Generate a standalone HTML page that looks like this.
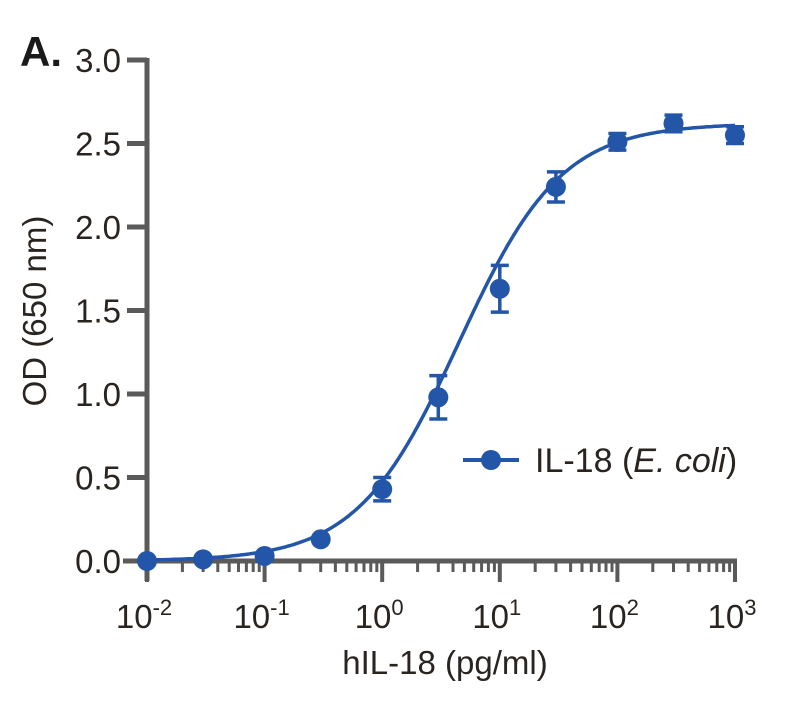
<!DOCTYPE html>
<html><head><meta charset="utf-8"><style>
body{margin:0;background:#fff}
svg text{font-family:"Liberation Sans",sans-serif;fill:#2a2420}
</style></head><body>
<svg id="chart" width="799" height="707" viewBox="0 0 799 707" xmlns="http://www.w3.org/2000/svg">
<text x="20" y="66" font-size="42" font-weight="bold" style="fill:#1a1a1a">A.</text>
<g id="axes"></g>
<g id="marks"></g>
<text transform="translate(46,311) rotate(-90)" text-anchor="middle" font-size="33">OD (650 nm)</text>
<text x="445" y="674" text-anchor="middle" font-size="33">hIL-18 (pg/ml)</text>
<g>
<line x1="463" y1="460" x2="519" y2="460" stroke="#2356a8" stroke-width="4"/>
<circle cx="491" cy="460" r="10" fill="#2356a8"/>
<text x="535" y="472" font-size="34">IL-18 (<tspan font-style="italic">E. coli</tspan>)</text>
</g>
</svg>
<script>
const xVals=[0.01,0.03,0.1,0.3,1,3,10,30,100,300,1000];
const yVals=[0.0,0.01,0.03,0.13,0.43,0.98,1.63,2.24,2.51,2.62,2.55];
const yErr=[0,0,0,0,0.07,0.13,0.14,0.09,0.05,0.05,0.05];
const yTicks=[0,0.5,1.0,1.5,2.0,2.5,3.0];
const xTickExp=[-2,-1,0,1,2,3];
const fit={bottom:0.0,top:2.62,ec50:4.5,hill:1.0};
const NS="http://www.w3.org/2000/svg";
const X0=147,X1=735,Y0=561,Y1=60;
const xs=v=>X0+(Math.log10(v)+2)/5*(X1-X0);
const ys=v=>Y0-v/3*(Y0-Y1);
const C="#2356a8",G="#5a5a5a";
function mk(t,a,p){const e=document.createElementNS(NS,t);for(const k in a)e.setAttribute(k,a[k]);p.appendChild(e);return e;}
const ax=document.getElementById('axes'),mg=document.getElementById('marks');
let l=mk('line',{x1:X0,y1:Y1-2,x2:X0,y2:Y0+20,stroke:G,'stroke-width':5},ax);

l=mk('line',{x1:123,y1:Y0,x2:X1+2,y2:Y0,stroke:G,'stroke-width':5},ax);

yTicks.forEach(v=>{const y=ys(v);
 const t=mk('line',{x1:127,y1:y,x2:X0,y2:y,stroke:G,'stroke-width':5},ax);
 
 const tx=mk('text',{x:121,y:y+12,'text-anchor':'end','font-size':33},ax);tx.textContent=v.toFixed(1);
 });
xTickExp.forEach((e,i)=>{const x=xs(Math.pow(10,e));
 const t=mk('line',{x1:x,y1:Y0,x2:x,y2:Y0+21,stroke:G,'stroke-width':4},ax);
 
 const tx=mk('text',{x:x-3,y:628,'text-anchor':'middle','font-size':33},ax);
 
 tx.textContent='10';const s=mk('tspan',{dy:-13,'font-size':22},tx);s.textContent=String(e);
 if(i<xTickExp.length-1)for(let m=2;m<=9;m++){const xm=xs(m*Math.pow(10,e));
  const mt=mk('line',{x1:xm,y1:Y0,x2:xm,y2:Y0+11,stroke:G,'stroke-width':3},ax);
  }});
let d='';for(let i=0;i<=300;i++){const lx=-2+5*i/300,v=Math.pow(10,lx);
 const y=fit.bottom+(fit.top-fit.bottom)/(1+Math.pow(fit.ec50/v,fit.hill));d+=(i?'L':'M')+xs(v).toFixed(1)+','+ys(y).toFixed(1);}
const cp=mk('path',{d:d,fill:'none',stroke:C,'stroke-width':3.5},mg);

xVals.forEach((xv,i)=>{const x=xs(xv),y=yVals[i];
 if(yErr[i]>0){const g=mk('g',{stroke:C,'stroke-width':3.5},mg);
  
  mk('line',{x1:x,y1:ys(y-yErr[i]),x2:x,y2:ys(y+yErr[i])},g);
  mk('line',{x1:x-9,y1:ys(y-yErr[i]),x2:x+9,y2:ys(y-yErr[i])},g);
  mk('line',{x1:x-9,y1:ys(y+yErr[i]),x2:x+9,y2:ys(y+yErr[i])},g);}
 const c=mk('circle',{cx:x,cy:ys(y),r:10,fill:C},mg);
 });
</script>
</body></html>
